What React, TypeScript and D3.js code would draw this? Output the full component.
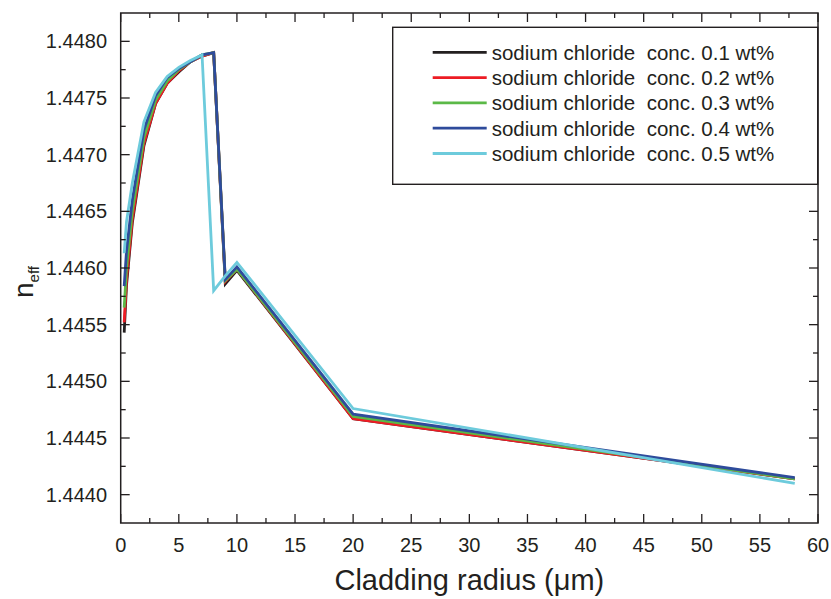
import * as d3 from 'd3'

// cladding radius (um), shared by all series
const radius = [0.3, 0.5, 1, 2, 3, 4, 5, 6, 7, 8, 9, 10, 20, 58]

// effective index, one array per NaCl concentration
const conc01 = [1.44543, 1.44585, 1.4464, 1.44708, 1.44745, 1.44763, 1.44773, 1.44782, 1.44787, 1.4479, 1.44586, 1.44598, 1.44467, 1.44414]
const conc02 = [1.44552, 1.4459, 1.44643, 1.4471, 1.44745, 1.44763, 1.44774, 1.44782, 1.44787, 1.4479, 1.44588, 1.44599, 1.44467, 1.44414]
const conc03 = [1.44565, 1.446, 1.4465, 1.44715, 1.44748, 1.44765, 1.44775, 1.44782, 1.44788, 1.4479, 1.44589, 1.44599, 1.44469, 1.44414]
const conc04 = [1.44584, 1.44615, 1.4466, 1.44722, 1.44752, 1.44768, 1.44776, 1.44782, 1.44788, 1.4479, 1.4459, 1.44601, 1.44471, 1.44415]
const conc05 = [1.44613, 1.44641, 1.44675, 1.44729, 1.44755, 1.44769, 1.44777, 1.44783, 1.44788, 1.4458, 1.44593, 1.44605, 1.44476, 1.4441]

const seriesValues = [conc01, conc02, conc03, conc04, conc05]
const seriesNames = [
  'sodium chloride  conc. 0.1 wt%',
  'sodium chloride  conc. 0.2 wt%',
  'sodium chloride  conc. 0.3 wt%',
  'sodium chloride  conc. 0.4 wt%',
  'sodium chloride  conc. 0.5 wt%',
]
const seriesColors = ['#231f20', '#ed1c24', '#5bb947', '#2e4b9b', '#6dcbdc']

const xMajorTicks = [0, 5, 10, 15, 20, 25, 30, 35, 40, 45, 50, 55, 60]
const xMinorTicks = [2.5, 7.5, 12.5, 17.5, 22.5, 27.5, 32.5, 37.5, 42.5, 47.5, 52.5, 57.5]
const yMajorTicks = [1.444, 1.4445, 1.445, 1.4455, 1.446, 1.4465, 1.447, 1.4475, 1.448]
const yMinorTicks = [1.44425, 1.44475, 1.44525, 1.44575, 1.44625, 1.44675, 1.44725, 1.44775]

const W = 831
const H = 599
const FONT = 'Arial, "Liberation Sans", sans-serif'
const INK = '#231f20'

export default function App() {
  const left = 120.7
  const right = 818
  const top = 13
  const bottom = 523

  const x = d3.scaleLinear().domain([0, 60]).range([left, right])
  const y = d3.scaleLinear().domain([1.44375, 1.44825]).range([bottom, top])
  const fmt = d3.format('.4f')

  const line = d3.line<number>()
    .x((d, i) => x(radius[i]))
    .y(d => y(d))

  const major = 9
  const minor = 5

  // legend placement
  const lg = { x: 392.7, y: 27.3, w: 425, h: 157, row0: 52.3, step: 25.3 }

  return (
    <svg width={W} height={H} style={{ position: 'absolute', left: 0, top: 0, display: 'block', background: '#fff' }}
      fontFamily={FONT}>
      <rect x={0} y={0} width={W} height={H} fill="#fff" />

      {/* series, first one underneath */}
      {seriesValues.map((vals, i) => (
        <path key={i} d={line(vals) || ''} fill="none" stroke={seriesColors[i]} strokeWidth={2.8}
          strokeLinejoin="miter" />
      ))}

      {/* frame */}
      <rect x={left} y={top} width={right - left} height={bottom - top} fill="none" stroke={INK} strokeWidth={1.5} />

      {/* x ticks, bottom and top, inward */}
      {xMajorTicks.map(t => (
        <g key={'xM' + t} stroke={INK} strokeWidth={1.3}>
          <line x1={x(t)} x2={x(t)} y1={bottom} y2={bottom - major} />
          <line x1={x(t)} x2={x(t)} y1={top} y2={top + major} />
        </g>
      ))}
      {xMinorTicks.map(t => (
        <g key={'xm' + t} stroke={INK} strokeWidth={1.3}>
          <line x1={x(t)} x2={x(t)} y1={bottom} y2={bottom - minor} />
          <line x1={x(t)} x2={x(t)} y1={top} y2={top + minor} />
        </g>
      ))}
      {/* y ticks, left and right, inward */}
      {yMajorTicks.map(t => (
        <g key={'yM' + t} stroke={INK} strokeWidth={1.3}>
          <line x1={left} x2={left + major} y1={y(t)} y2={y(t)} />
          <line x1={right} x2={right - major} y1={y(t)} y2={y(t)} />
        </g>
      ))}
      {yMinorTicks.map(t => (
        <g key={'ym' + t} stroke={INK} strokeWidth={1.3}>
          <line x1={left} x2={left + minor} y1={y(t)} y2={y(t)} />
          <line x1={right} x2={right - minor} y1={y(t)} y2={y(t)} />
        </g>
      ))}

      {/* tick labels */}
      {xMajorTicks.map(t => (
        <text key={'xl' + t} x={x(t)} y={545} textAnchor="middle" dominantBaseline="central"
          fontSize={20} fill={INK}>{t}</text>
      ))}
      {yMajorTicks.map(t => (
        <text key={'yl' + t} x={107} y={y(t)} textAnchor="end" dominantBaseline="central"
          fontSize={20} fill={INK}>{fmt(t)}</text>
      ))}

      {/* axis titles */}
      <text x={(left + right) / 2} y={580} textAnchor="middle" dominantBaseline="central" fontSize={29} fill={INK}>
        Cladding radius (μm)
      </text>
      <g transform="translate(33,282) rotate(-90)">
        <text x={0} y={0} textAnchor="middle" fontSize={28} fill={INK}>
          n<tspan fontSize={15} dy={6}>eff</tspan>
        </text>
      </g>

      {/* legend */}
      <rect x={lg.x} y={lg.y} width={lg.w} height={lg.h} fill="#fff" stroke={INK} strokeWidth={1.4} />
      {seriesNames.map((name, i) => {
        const ry = lg.row0 + i * lg.step
        return (
          <g key={'lg' + i}>
            <line x1={432.7} x2={486.7} y1={ry} y2={ry} stroke={seriesColors[i]} strokeWidth={2.8} />
            <text x={491.7} y={ry} dominantBaseline="central" fontSize={20.5} fill={INK}
              style={{ whiteSpace: 'pre' }}>{name}</text>
          </g>
        )
      })}
    </svg>
  )
}
